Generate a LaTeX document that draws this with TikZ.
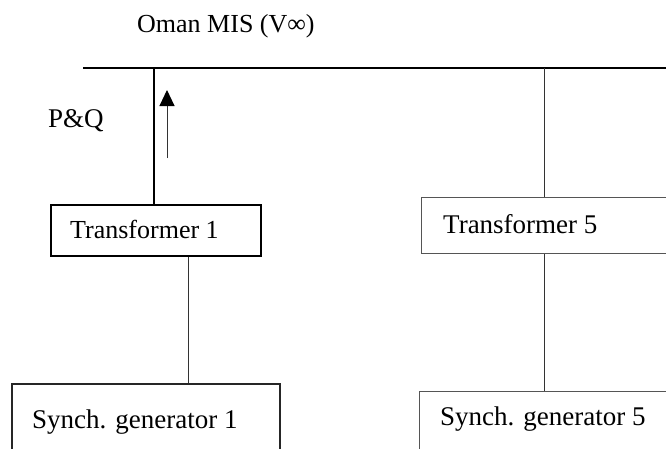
\documentclass[tikz,border=0pt]{standalone}
\usepackage{fontspec}
\setmainfont{Liberation Serif}
\usetikzlibrary{arrows.meta}
\definecolor{thinc}{HTML}{333333}
\definecolor{boxc}{HTML}{555555}
\begin{document}
\begin{tikzpicture}[x=1pt,y=-1pt,
  lbl/.style={inner sep=0pt, anchor=base west, font=\fontsize{27}{32}\selectfont},
  heavybox/.style={draw=black, line width=2pt, anchor=north west, inner sep=0pt},
  midbox/.style={draw=black!85, line width=1.5pt, anchor=north west, inner sep=0pt},
  lightbox/.style={draw=boxc, line width=1.1pt, anchor=north west, inner sep=0pt},
  busline/.style={draw=black, line width=2pt},
  thinline/.style={draw=thinc, line width=1pt},
  flowarrow/.style={draw=thinc, line width=1pt, -{Triangle[length=16pt,width=15pt,color=black]}}
]
\useasboundingbox (0,0) rectangle (666,448);
\clip (0,0) rectangle (666,448);
\fill[white] (0,0) rectangle (666,448);

% title and bus
\node[lbl, font=\fontsize{26}{31}\selectfont] (title) at (137,32) {Oman MIS (V∞)};
\coordinate (busL) at (83,68);
\coordinate (busR) at (700,68);
\draw[busline] (busL) -- (busR);
\coordinate (b1) at (154,68);
\coordinate (b5) at (544,68);

% left branch
\node[heavybox, minimum width=210pt, minimum height=51pt] (t1) at (50,204) {};
\node[lbl, font=\fontsize{26}{31}\selectfont] (t1text) at (70,238) {Transformer 1};
\node[midbox, minimum width=268pt, minimum height=120pt] (g1) at (11,383) {};
\node[lbl] (g1text) at (32,428) {Synch. generator 1};
\draw[busline] (b1) -- (b1 |- t1.north);
\coordinate (c1) at (188,0);
\draw[thinline] (c1 |- t1.south) -- (c1 |- g1.north);

% power flow arrow
\coordinate (arrS) at (167,158);
\coordinate (arrT) at (167,90);
\draw[flowarrow] (arrS) -- (arrT);
\node[lbl] (pq) at (48,127) {P\&Q};

% right branch
\node[lightbox, minimum width=300pt, minimum height=56pt] (t5) at (421,197) {};
\node[lbl] (t5text) at (443,233) {Transformer 5};
\node[lightbox, minimum width=300pt, minimum height=120pt] (g5) at (419,391) {};
\node[lbl] (g5text) at (440,425) {Synch. generator 5};
\draw[thinline] (b5) -- (b5 |- t5.north);
\draw[thinline] (b5 |- t5.south) -- (b5 |- g5.north);
\end{tikzpicture}
\end{document}
